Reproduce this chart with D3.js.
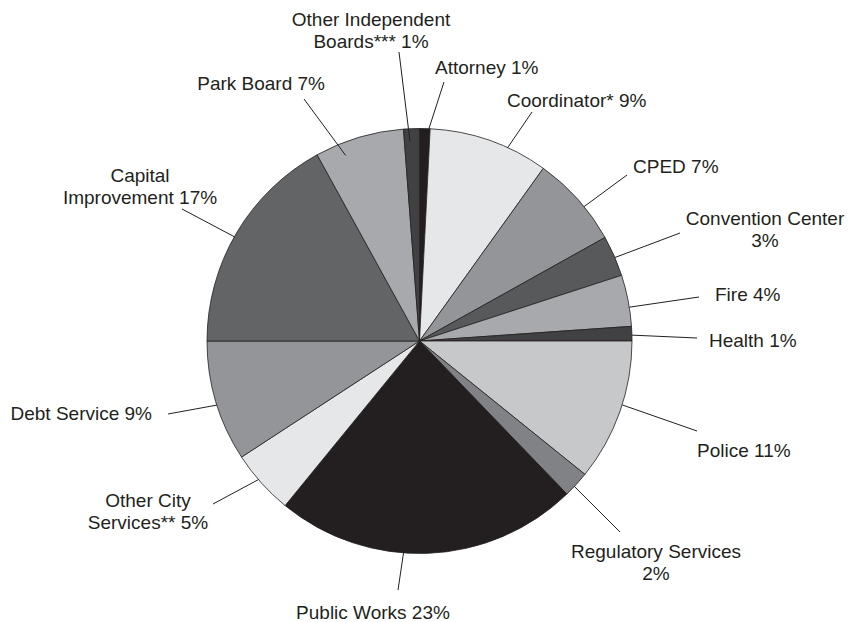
<!DOCTYPE html>
<html>
<head>
<meta charset="utf-8">
<script src="https://cdn.jsdelivr.net/npm/d3@7"></script>
<style>
  body { margin: 0; background: #fff; }
  svg { display: block; }
  text { font-family: "Liberation Sans", Arial, Helvetica, sans-serif; font-size: 19px; fill: #231f20; }
</style>
</head>
<body>
<svg id="chart" width="848" height="622"></svg>
<script>
// budget shares, clockwise from 12 o'clock
var categories = ['Attorney', 'Coordinator*', 'CPED', 'Convention Center', 'Fire', 'Health',
    'Police', 'Regulatory Services', 'Public Works', 'Other City Services**', 'Debt Service',
    'Capital Improvement', 'Park Board', 'Other Independent Boards***'];
var shares = [0.8, 9.1, 7.0, 3.1, 3.9, 1.1, 10.8, 2.0, 23.1, 4.9, 9.2, 17.0, 6.8, 1.2];
var fills = ['#231f20', '#e6e7e8', '#939598', '#58595b', '#a7a9ac', '#414042', '#c7c8ca',
    '#808285', '#231f20', '#e6e7e8', '#939598', '#636466', '#a7a9ac', '#414042'];

// label text lines ("%" gets appended to the last one)
var labelLines = [['Attorney'], ['Coordinator*'], ['CPED'], ['Convention Center', ''], ['Fire'], ['Health'],
    ['Police'], ['Regulatory Services', ''], ['Public Works'], ['Other City', 'Services**'], ['Debt Service'],
    ['Capital', 'Improvement'], ['Park Board'], ['Other Independent', 'Boards***']];

// label placement: text anchor point, leader end outside, where leader meets the slice
var labelLayout = [
    {x: 435, y: 74,  anchor: 'start',  ox: 444, oy: 82,  t: 0.88, k: 1},
    {x: 507, y: 107, anchor: 'start',  ox: 532, oy: 112, t: 0.66, k: 1},
    {x: 633, y: 173, anchor: 'start',  ox: 627, oy: 175, t: 0.60, k: 1},
    {x: 765, y: 225, anchor: 'middle', ox: 680, oy: 233, t: 0.54, k: 1},
    {x: 715, y: 301, anchor: 'start',  ox: 699, oy: 297, t: 0.63, k: 1},
    {x: 709, y: 347, anchor: 'start',  ox: 697, oy: 338, t: 0.60, k: 1},
    {x: 697, y: 457, anchor: 'start',  ox: 697, oy: 431, t: 0.45, k: 1},
    {x: 656, y: 558, anchor: 'middle', ox: 620, oy: 532, t: 0.60, k: 1},
    {x: 373, y: 619, anchor: 'middle', ox: 398, oy: 590, t: 0.58, k: 1},
    {x: 148, y: 507, anchor: 'middle', ox: 213, oy: 504, t: 0.57, k: 1},
    {x: 152, y: 420, anchor: 'end',    ox: 168, oy: 414, t: 0.47, k: 1},
    {x: 140, y: 182, anchor: 'middle', ox: 182, oy: 209, t: 0.48, k: 1},
    {x: 325, y: 90,  anchor: 'end',    ox: 304, oy: 99,  t: 0.29, k: 0.94},
    {x: 371, y: 26,  anchor: 'middle', ox: 399, oy: 52,  t: 0.37, k: 0.94}
];

var svg = d3.select('#chart');
var cx = 419.5, cy = 341, radius = 212.5, lineHeight = 22;

var pie = d3.pie().sort(null).value(function(d) { return d; });
var arc = d3.arc().innerRadius(0).outerRadius(radius);
var arcs = pie(shares);

var g = svg.append('g').attr('transform', 'translate(' + cx + ',' + cy + ')');

g.selectAll('.slice')
    .data(arcs)
    .enter().append('path')
    .attr('class', 'slice')
    .attr('d', arc)
    .style('fill', function(d, i) { return fills[i]; })
    .style('stroke', '#231f20')
    .style('stroke-width', 0.8)
    .style('stroke-linejoin', 'round');

// leader lines
svg.selectAll('.leader')
    .data(arcs)
    .enter().append('line')
    .attr('class', 'leader')
    .attr('x1', function(d, i) { return labelLayout[i].ox; })
    .attr('y1', function(d, i) { return labelLayout[i].oy; })
    .attr('x2', function(d, i) {
        var L = labelLayout[i];
        var a = d.startAngle + (d.endAngle - d.startAngle) * L.t;
        return cx + Math.sin(a) * radius * L.k;
    })
    .attr('y2', function(d, i) {
        var L = labelLayout[i];
        var a = d.startAngle + (d.endAngle - d.startAngle) * L.t;
        return cy - Math.cos(a) * radius * L.k;
    })
    .style('stroke', '#231f20')
    .style('stroke-width', 1);

var labels = svg.selectAll('.label')
    .data(arcs)
    .enter().append('text')
    .attr('class', 'label')
    .attr('text-anchor', function(d, i) { return labelLayout[i].anchor; });

labels.each(function(d, i) {
    var lines = labelLines[i].slice();
    var pct = Math.round(shares[i]) + '%';
    var last = lines.length - 1;
    lines[last] = lines[last] ? lines[last] + ' ' + pct : pct;
    d3.select(this).selectAll('tspan')
        .data(lines)
        .enter().append('tspan')
        .attr('x', labelLayout[i].x)
        .attr('y', function(s, j) { return labelLayout[i].y + j * lineHeight; })
        .text(function(s) { return s; });
});
</script>
</body>
</html>
